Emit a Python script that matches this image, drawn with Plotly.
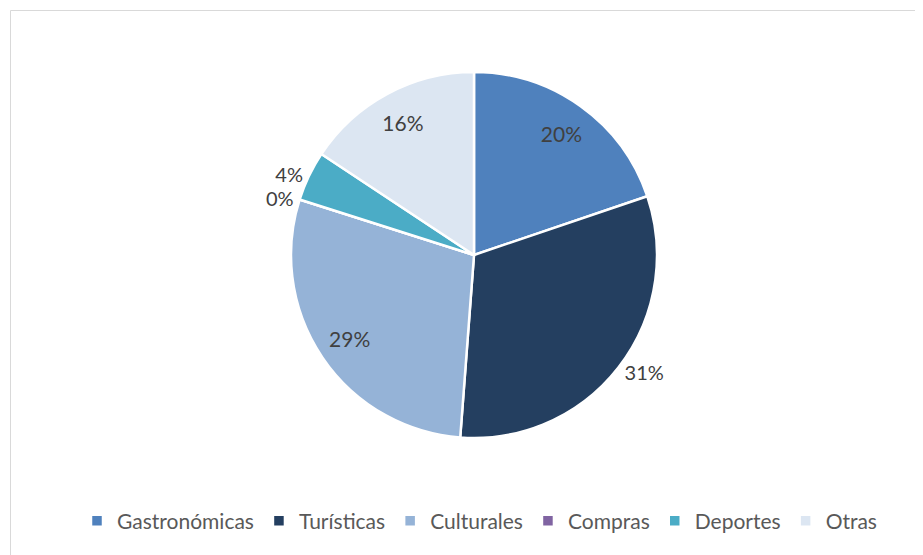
import plotly.graph_objects as go

categories = ["Gastronómicas", "Turísticas", "Culturales", "Compras", "Deportes", "Otras"]
values = [19.8, 31.4, 28.7, 0, 4.4, 15.7]
colors = ["#4F81BD", "#243F60", "#95B3D7", "#8064A2", "#4BACC6", "#DCE6F2"]
outside_pos = ["none", "outside", "none", "outside", "outside", "none"]
inside_pos = ["inside", "none", "inside", "none", "none", "inside"]

W, H = 923, 555
OFF = 8  # page body margin
cx, cy, r = 474 - OFF, 255 - OFF, 183
FONT = "Lato, Open Sans, sans-serif"

dom = dict(x=[(cx - r) / W, (cx + r) / W], y=[(H - cy - r) / H, (H - cy + r) / H])

fig = go.Figure()
fig.add_trace(go.Pie(
    labels=categories,
    values=values,
    sort=False,
    direction="clockwise",
    rotation=0,
    marker=dict(colors=colors, line=dict(color="white", width=2.5)),
    texttemplate="%{percent:.0%}",
    textposition=outside_pos,
    textfont=dict(family=FONT, size=20, color="#404040"),
    domain=dom,
    hoverinfo="label+percent",
))
# transparent ring only to carry the inside labels further out, like the reference
fig.add_trace(go.Pie(
    labels=categories,
    values=values,
    sort=False,
    direction="clockwise",
    rotation=0,
    hole=0.64,
    marker=dict(colors=["rgba(0,0,0,0)"] * len(values), line=dict(width=0)),
    texttemplate="%{percent:.0%}",
    textposition=inside_pos,
    insidetextorientation="horizontal",
    textfont=dict(family=FONT, size=21, color="#404040"),
    domain=dom,
    showlegend=False,
    hoverinfo="skip",
))

# chart area border (only top and left edges visible in the crop)
fig.add_shape(type="rect", xref="paper", yref="paper",
              x0=(10.5 - OFF) / W, x1=1.05, y0=-0.05, y1=1 - (10.5 - OFF) / H,
              line=dict(color="#D9D9D9", width=1), fillcolor="rgba(0,0,0,0)")

fig.update_layout(
    width=W, height=H,
    margin=dict(l=0, r=0, t=0, b=0),
    paper_bgcolor="white",
    plot_bgcolor="white",
    showlegend=True,
    legend=dict(orientation="h", x=(479.5 - OFF) / W, xanchor="center",
                y=(H - (521 - OFF)) / H, yanchor="middle",
                font=dict(family=FONT, size=21, color="#595959"),
                itemwidth=30, traceorder="normal"),
)

fig.write_html("out.html")
